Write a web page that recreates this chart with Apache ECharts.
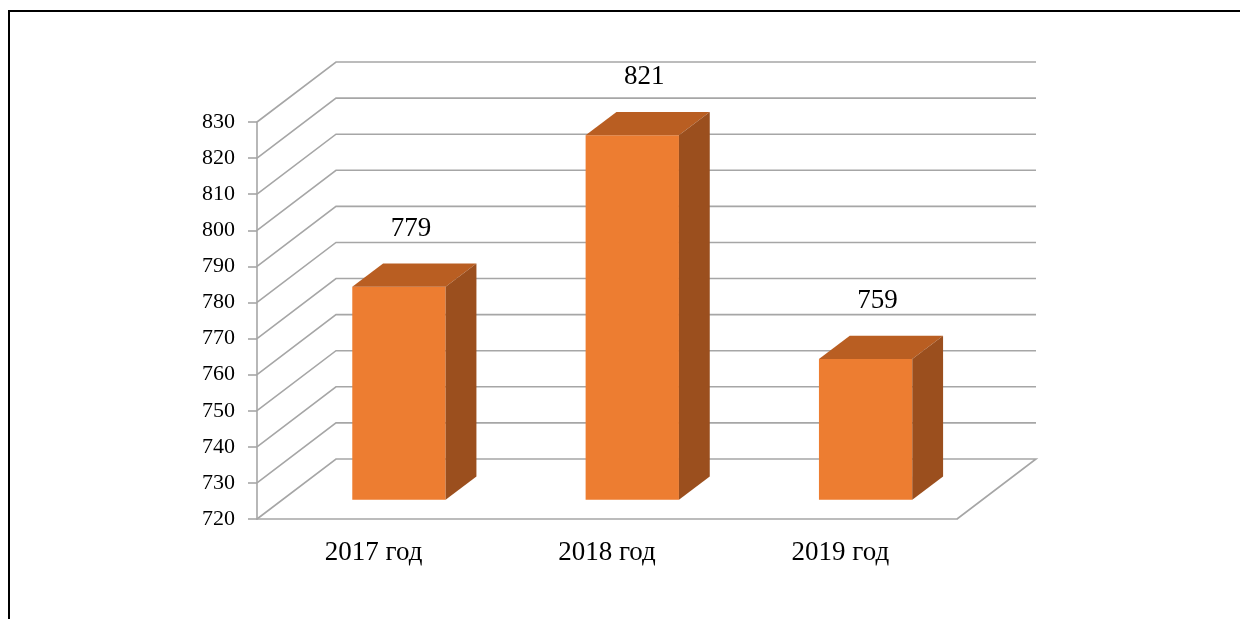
<!DOCTYPE html>
<html>
<head>
<meta charset="utf-8">
<script src="https://cdn.jsdelivr.net/npm/echarts@6/dist/echarts.min.js"></script>
<style>
  html, body { margin: 0; padding: 0; background: #fff; }
  #chart { width: 1240px; height: 619px; }
</style>
</head>
<body>
<div id="chart"></div>
<script>
  // данные
  var categories = ['2017 год', '2018 год', '2019 год']
  var values = [779, 821, 759]
  var yTicks = [720, 730, 740, 750, 760, 770, 780, 790, 800, 810, 820, 830]

  // псевдо-3D: смещение задней стенки
  var DX = 79, DY = -60
  var F0 = 0.32   // где передняя грань столбца
  var FD = 0.39   // глубина столбца
  var serif = "'Liberation Serif', 'Times New Roman', serif"
  var gridColor = '#a6a6a6'

  var chart = echarts.init(document.getElementById('chart'))

  // линии задней стенки и диагонали
  function renderWall(params, api) {
    var cs = params.coordSys
    var v = api.value(1)
    var y = api.coord([0, v])[1]
    var left = cs.x, right = cs.x + cs.width
    var pts = [[left, y], [left + DX, y + DY], [right + DX, y + DY]]
    if (v === yTicks[0]) pts.push([right, y])
    return {
      type: 'polyline',
      shape: { points: pts },
      style: { stroke: gridColor, lineWidth: 1.6, fill: null }
    }
  }

  // столбец: передняя грань, верх, бок
  function renderBar(params, api) {
    var idx = api.value(0)
    var val = api.value(1)
    var base = api.coord([idx, yTicks[0]])
    var top = api.coord([idx, val])
    var w = api.size([1, 0])[0] * 0.4
    var ox = DX * F0, oy = DY * F0
    var dx = DX * FD, dy = DY * FD
    var l = base[0] + ox - w / 2, r = base[0] + ox + w / 2
    var t = top[1] + oy, b = base[1] + oy
    return {
      type: 'group',
      children: [
        {
          type: 'polygon',
          shape: { points: [[l, t], [r, t], [r, b], [l, b]] },
          style: { fill: '#ed7d31' }
        },
        {
          type: 'polygon',
          shape: { points: [[l, t], [r, t], [r + dx, t + dy], [l + dx, t + dy]] },
          style: { fill: '#b95e22' }
        },
        {
          type: 'polygon',
          shape: { points: [[r, t], [r + dx, t + dy], [r + dx, b + dy], [r, b]] },
          style: { fill: '#9b4f1e' }
        },
        {
          type: 'text',
          style: {
            x: base[0] + ox + 12,
            y: t + dy - 35,
            text: String(val),
            fill: '#000',
            font: '27px ' + serif,
            align: 'center',
            verticalAlign: 'middle'
          }
        }
      ]
    }
  }

  chart.setOption({
    animation: false,
    graphic: [
      {
        type: 'rect',
        shape: { x: 9, y: 11, width: 1400, height: 800 },
        style: { fill: null, stroke: '#000', lineWidth: 2 },
        silent: true
      }
    ],
    grid: {
      left: 257,
      right: 283,
      top: 122,
      bottom: 100
    },
    xAxis: {
      type: 'category',
      data: categories,
      axisLine: { lineStyle: { color: gridColor, width: 1.6 } },
      axisTick: { length: 8, lineStyle: { color: gridColor, width: 1.6 } },
      axisLabel: { color: '#000', fontSize: 27, fontFamily: serif, margin: 20 }
    },
    yAxis: {
      type: 'value',
      min: 720,
      max: 830,
      interval: 10,
      axisLine: { show: true, lineStyle: { color: gridColor, width: 1.6 } },
      axisTick: { show: true, length: 9, lineStyle: { color: gridColor, width: 1.6 } },
      axisLabel: { color: '#000', fontSize: 22, fontFamily: serif, margin: 22 },
      splitLine: { show: false }
    },
    series: [
      {
        type: 'custom',
        z: 1,
        renderItem: renderWall,
        encode: { x: 0, y: 1 },
        data: yTicks.map(function (v) { return [0, v] })
      },
      {
        type: 'custom',
        z: 3,
        renderItem: renderBar,
        encode: { x: 0, y: 1 },
        data: values.map(function (v, i) { return [i, v] })
      }
    ]
  })
</script>
</body>
</html>
